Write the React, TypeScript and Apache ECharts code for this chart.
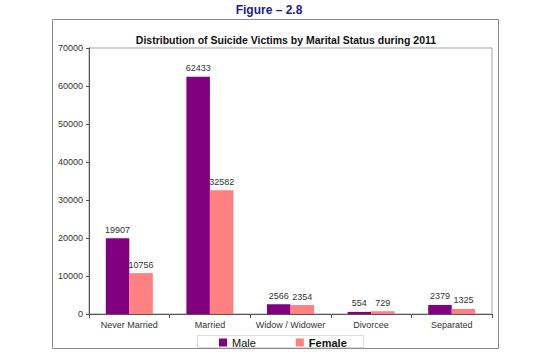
import React, { useEffect, useRef } from "react";
import * as echarts from "echarts";

const categories = ["Never Married", "Married", "Widow / Widower", "Divorcee", "Separated"];
const maleValues = [19907, 62433, 2566, 554, 2379];
const femaleValues = [10756, 32582, 2354, 729, 1325];
const yTicks = [0, 10000, 20000, 30000, 40000, 50000, 60000, 70000];

const FONT = "'Liberation Sans', Arial, sans-serif";

export default function App() {
  const ref = useRef<HTMLDivElement>(null);
  useEffect(() => {
    document.body.style.margin = "0";
    const chart = echarts.init(ref.current!, undefined, { renderer: "svg" });
    chart.setOption({
      animation: false,
      backgroundColor: "#ffffff",
      textStyle: { fontFamily: FONT },
      title: [
        {
          text: "Figure – 2.8",
          left: 269,
          textAlign: "center",
          top: 4,
          padding: 0,
          textStyle: { fontSize: 12, fontWeight: "bold", color: "#1c1c8c", fontFamily: FONT },
        },
        {
          text: "Distribution of Suicide Victims by Marital Status during 2011",
          left: 286,
          textAlign: "center",
          top: 34,
          padding: 0,
          textStyle: { fontSize: 10.5, fontWeight: "bold", color: "#111", fontFamily: FONT },
        },
      ],
      graphic: [
        {
          type: "rect",
          shape: { x: 52.5, y: 19.5, width: 446, height: 329 },
          style: { fill: "none", stroke: "#8a8a8a", lineWidth: 1 },
          z: -1,
        },
        {
          type: "rect",
          shape: { x: 197.5, y: 335.5, width: 166, height: 12 },
          style: { fill: "#fff", stroke: "#dddddd", lineWidth: 1 },
          z: -1,
        },
      ],
      legend: {
        left: 219,
        top: 337,
        padding: 0,
        itemWidth: 8,
        itemHeight: 8,
        itemGap: 40,
        icon: "rect",
        textStyle: { fontSize: 11, color: "#111", fontFamily: FONT },
        data: [
          { name: "Male" },
          { name: "Female", textStyle: { fontWeight: "bold" } },
        ],
      },
      grid: {
        left: 89,
        right: 46,
        top: 48,
        bottom: 40,
        show: true,
        borderColor: "#a0a0a0",
        borderWidth: 1,
        backgroundColor: "transparent",
      },
      xAxis: {
        type: "category",
        data: categories,
        axisLine: { lineStyle: { color: "#555" } },
        axisTick: { show: true, alignWithLabel: false, length: 4, lineStyle: { color: "#555" } },
        axisLabel: { fontSize: 9, color: "#333", margin: 6, interval: 0, fontFamily: FONT },
      },
      yAxis: {
        type: "value",
        min: yTicks[0],
        max: yTicks[yTicks.length - 1],
        interval: 10000,
        axisLine: { show: true, lineStyle: { color: "#555" } },
        axisTick: { show: true, length: 3, lineStyle: { color: "#555" } },
        axisLabel: { fontSize: 9, color: "#333", margin: 6, fontFamily: FONT, formatter: (v: number) => String(v) },
        splitLine: { show: false },
      },
      series: [
        {
          name: "Male",
          type: "bar",
          data: maleValues,
          barWidth: 23.5,
          barGap: "0%",
          itemStyle: { color: "#800080" },
          label: { show: true, position: "top", distance: 4, fontSize: 9, color: "#333", fontFamily: FONT },
        },
        {
          name: "Female",
          type: "bar",
          data: femaleValues,
          barWidth: 23.5,
          barGap: "0%",
          itemStyle: { color: "#ff8080" },
          label: { show: true, position: "top", distance: 4, fontSize: 9, color: "#333", fontFamily: FONT },
        },
      ],
    });
    return () => chart.dispose();
  }, []);
  return <div ref={ref} style={{ position: "absolute", left: 0, top: 0, width: 538, height: 354 }} />;
}
